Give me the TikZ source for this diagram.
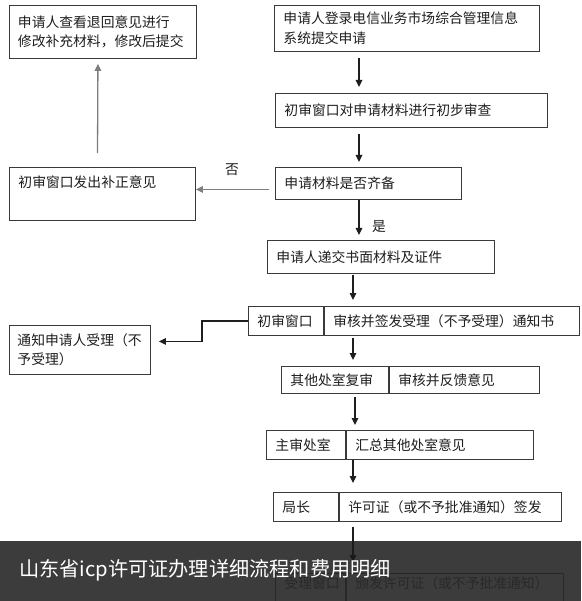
\documentclass[tikz,border=0pt]{standalone}
\usepackage{fontspec}
\setmainfont{Noto Sans CJK SC}
\usepackage{xcolor}
\usepackage{tikz}
\usetikzlibrary{arrows.meta,positioning}
\definecolor{ink}{HTML}{3A3A3A}
\definecolor{txt}{HTML}{1E1E1E}
\definecolor{grey}{HTML}{7E7E7E}
\definecolor{band}{HTML}{1A1A1A}
\newcommand{\boxfont}{\fontsize{13.8}{19.5}\selectfont}
\newcommand{\titlefont}{\fontsize{20.2}{24}\selectfont}

\begin{document}
\begin{tikzpicture}[
  x=1pt,y=-1pt,
  box/.style={draw=ink,line width=0.9pt,anchor=north west,align=left,inner xsep=9pt,inner ysep=0pt,font=\boxfont,text=txt},
  arrow/.style={-{Triangle[length=7pt,width=6.5pt]},line width=1.1pt,draw=txt},
  greyarrow/.style={arrow,draw=grey,line width=1.3pt},
  tag/.style={font=\boxfont,text=txt,inner sep=0pt}
]
\useasboundingbox[fill=white] (0,0) rectangle (581,601);
% upper part
\node[box,text width=170pt,minimum height=53pt,inner xsep=8.5pt] (revise) at (9,5) {申请人查看退回意见进行\\修改补充材料，修改后提交};
\node[box,text width=247pt,minimum height=46pt] (login) at (274,5) {申请人登录电信业务市场综合管理信息\\系统提交申请};
\node[box,text width=254pt,minimum height=34pt] (prelim) at (275,93) {初审窗口对申请材料进行初步审查};
\node[box,text width=168pt,minimum height=32pt] (complete) at (275,167) {申请材料是否齐备};
\node[box,text width=168pt,inner ysep=5pt,text height=15pt,text depth=28pt] (correct) at (9,167) {初审窗口发出补正意见};
\node[box,text width=209pt,minimum height=33pt] (submit) at (267,240) {申请人递交书面材料及证件};
% two-part boxes
\node[box,text width=57pt,minimum height=29pt] (accept-l) at (248,306) {初审窗口};
\node[box,text width=237pt,minimum height=29pt,right=0pt of accept-l] (accept-r) {审核并签发受理（不予受理）通知书};
\node[box,text width=125pt,minimum height=49pt,inner xsep=8pt] (notify) at (9,325) {通知申请人受理（不\\予受理）};
\node[box,text width=89pt,minimum height=27pt] (review-l) at (281,366) {其他处室复审};
\node[box,text width=132pt,minimum height=27pt,right=0pt of review-l] (review-r) {审核并反馈意见};
\node[box,text width=61pt,minimum height=29pt] (main-l) at (266,430) {主审处室};
\node[box,text width=169pt,minimum height=29pt,right=0pt of main-l] (main-r) {汇总其他处室意见};
\node[box,text width=47pt,minimum height=29pt] (chief-l) at (273,492) {局长};
\node[box,text width=204pt,minimum height=29pt,right=0pt of chief-l] (chief-r) {许可证（或不予批准通知）签发};

\coordinate (upper) at (359,0);
\coordinate (lower) at (353,0);
\draw[arrow,shorten <=6pt,shorten >=6pt] (login.south -| upper)--(prelim.north -| upper);
\draw[arrow,shorten <=6pt,shorten >=5pt] (prelim.south -| upper)--(complete.north -| upper);
\draw[arrow,shorten >=5pt] (complete.south -| upper)--(submit.north -| upper);
\node[tag] (yes) at (379,227) {是};
\draw[greyarrow,shorten <=6pt] ([yshift=-6pt]complete.west)--([yshift=-6pt]complete.west -| correct.east);
\node[tag] (no) at (232,170) {否};
\draw[greyarrow,shorten <=14pt,shorten >=5pt] ([xshift=-5pt]correct.north)--([xshift=-5pt]revise.south);
\draw[arrow,shorten <=1pt,shorten >=6pt] (submit.south -| lower)--(accept-l.north -| lower);
\draw[arrow,shorten >=8pt] (accept-l.west)--++(-46,0) |- ([yshift=8.5pt]notify.east);
\draw[arrow,shorten <=2pt,shorten >=6pt] (accept-l.south -| lower)--(review-l.north -| lower);
\draw[arrow,shorten <=3pt,shorten >=5pt] ([xshift=2pt]review-l.south -| lower)--([xshift=2pt]main-l.north -| lower);
\draw[arrow,shorten >=9pt] (main-l.south -| lower)--(chief-l.north -| lower);

% caption band
\node[box,text width=52pt,text height=15pt,text depth=25pt,draw=grey,text=grey] (issue-l) at (275,573) {受理窗口};
\node[box,text width=199pt,text height=15pt,text depth=25pt,draw=grey,text=grey,right=0pt of issue-l] (issue-r) {颁发许可证（或不予批准通知）};
\draw[arrow,shorten <=5pt,shorten >=11pt] (chief-l.south -| lower)--(issue-l.north -| lower);
\fill[band,opacity=0.85] (0,541) rectangle (581,601);
\node[anchor=west,text=white,font=\titlefont,inner sep=0pt] (title) at (19,570) {山东省icp许可证办理详细流程和费用明细};
\end{tikzpicture}
\end{document}
